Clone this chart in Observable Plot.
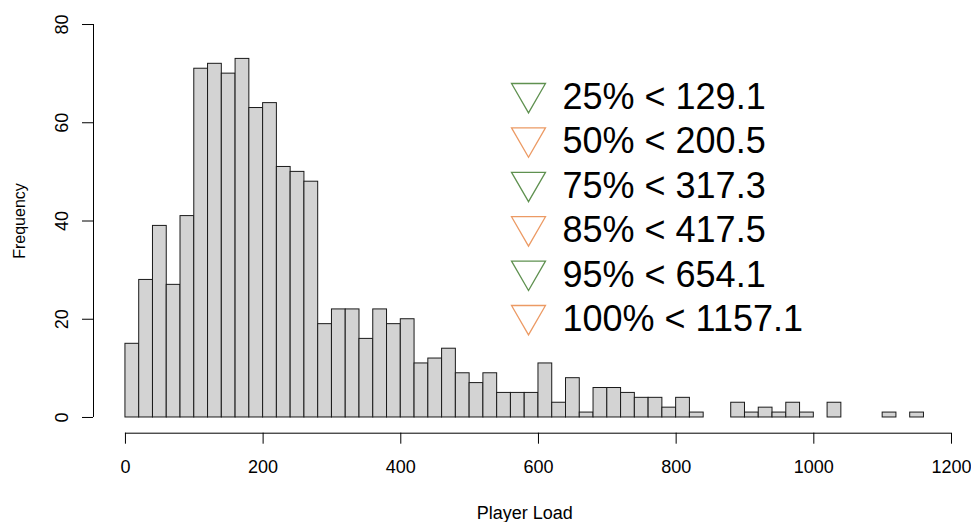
<!DOCTYPE html>
<html>
<head>
<meta charset="utf-8">
<script src="https://cdn.jsdelivr.net/npm/d3@7"></script>
<script src="https://cdn.jsdelivr.net/npm/@observablehq/plot@0.6"></script>
<style>
  html, body { margin: 0; padding: 0; background: #fff; }
</style>
</head>
<body>
<div id="chart"></div>
<script>
// Histogram breaks (bin edges) and bin counts for player load
const breaks = [0, 20, 40, 60, 80, 100, 120, 140, 160, 180, 200, 220, 240, 260, 280, 300,
  320, 340, 360, 380, 400, 420, 440, 460, 480, 500, 520, 540, 560, 580, 600, 620, 640, 660,
  680, 700, 720, 740, 760, 780, 800, 820, 840, 860, 880, 900, 920, 940, 960, 980, 1000,
  1020, 1040, 1060, 1080, 1100, 1120, 1140, 1160];
const counts = [15, 28, 39, 27, 41, 71, 72, 70, 73, 63, 64, 51, 50, 48, 19, 22, 22, 16, 22,
  19, 20, 11, 12, 14, 9, 7, 9, 5, 5, 5, 11, 3, 8, 1, 6, 6, 5, 4, 4, 2, 4, 1, 0, 0, 3, 1, 2,
  1, 3, 1, 0, 3, 0, 0, 0, 1, 0, 1];

// Axis ticks
const xTicks = [0, 200, 400, 600, 800, 1000, 1200];
const yTicks = [0, 20, 40, 60, 80];

// Quantile legend
const quantileLevels = ["25%", "50%", "75%", "85%", "95%", "100%"];
const quantileValues = [129.1, 200.5, 317.3, 417.5, 654.1, 1157.1];
const quantileColors = ["#5f9150", "#ec9a64", "#5f9150", "#ec9a64", "#5f9150", "#ec9a64"];

const bins = counts.map((count, i) => ({x1: breaks[i], x2: breaks[i + 1], count}));

// Plot region padded 4% beyond the data limits on each side
const pad = (lo, hi) => [lo - 0.04 * (hi - lo), hi + 0.04 * (hi - lo)];
const xDomain = pad(breaks[0], breaks[breaks.length - 1]);
const yDomain = pad(yTicks[0], yTicks[yTicks.length - 1]);

const rowStep = 44.4;
const legendMarks = quantileLevels.flatMap((level, i) => [
  Plot.dot([level], {
    frameAnchor: "top-left", dx: 435, dy: 84.5 + i * rowStep,
    symbol: "triangle", rotate: 180, r: 12.6,
    fill: "none", stroke: quantileColors[i], strokeWidth: 1.3
  }),
  Plot.text([`${level} < ${quantileValues[i].toFixed(1)}`], {
    frameAnchor: "top-left", dx: 469, dy: 74.7 + i * rowStep,
    textAnchor: "start", lineAnchor: "top", fontSize: 36, fill: "#000"
  })
]);

const chart = Plot.plot({
  width: 971,
  height: 522,
  marginLeft: 93,
  marginRight: 15.6,
  marginTop: 8.3,
  marginBottom: 89.3,
  style: {fontFamily: "'Liberation Sans', Arial, sans-serif", background: "#fff", color: "#000"},
  x: {domain: xDomain},
  y: {domain: yDomain},
  marks: [
    Plot.rectY(bins, {x1: "x1", x2: "x2", y: "count", inset: 0,
      fill: "#d3d3d3", stroke: "#1a1a1a", strokeWidth: 1}),
    // x axis
    Plot.ruleY([yDomain[0]], {x1: xTicks[0], x2: xTicks[xTicks.length - 1], stroke: "#000"}),
    Plot.axisX(xTicks, {tickSize: 11, tickPadding: 16, fontSize: 18,
      tickFormat: d => String(d), label: null}),
    // y axis
    Plot.ruleX([xDomain[0]], {y1: yTicks[0], y2: yTicks[yTicks.length - 1], stroke: "#000"}),
    Plot.axisY(yTicks, {tickSize: 11, fill: "none", label: null}),
    Plot.text(yTicks, {y: d => d, text: d => String(d), frameAnchor: "left", dx: -26,
      rotate: -90, textAnchor: "middle", lineAnchor: "bottom", fontSize: 18, fill: "#000"}),
    // axis titles
    Plot.text(["Player Load"], {frameAnchor: "bottom", dy: 85.5, lineAnchor: "bottom",
      fontSize: 18, fill: "#000"}),
    Plot.text(["Frequency"], {frameAnchor: "left", dx: -69, rotate: -90,
      textAnchor: "middle", lineAnchor: "bottom", fontSize: 16, fill: "#000"}),
    ...legendMarks
  ]
});

document.getElementById("chart").appendChild(chart);
</script>
</body>
</html>
